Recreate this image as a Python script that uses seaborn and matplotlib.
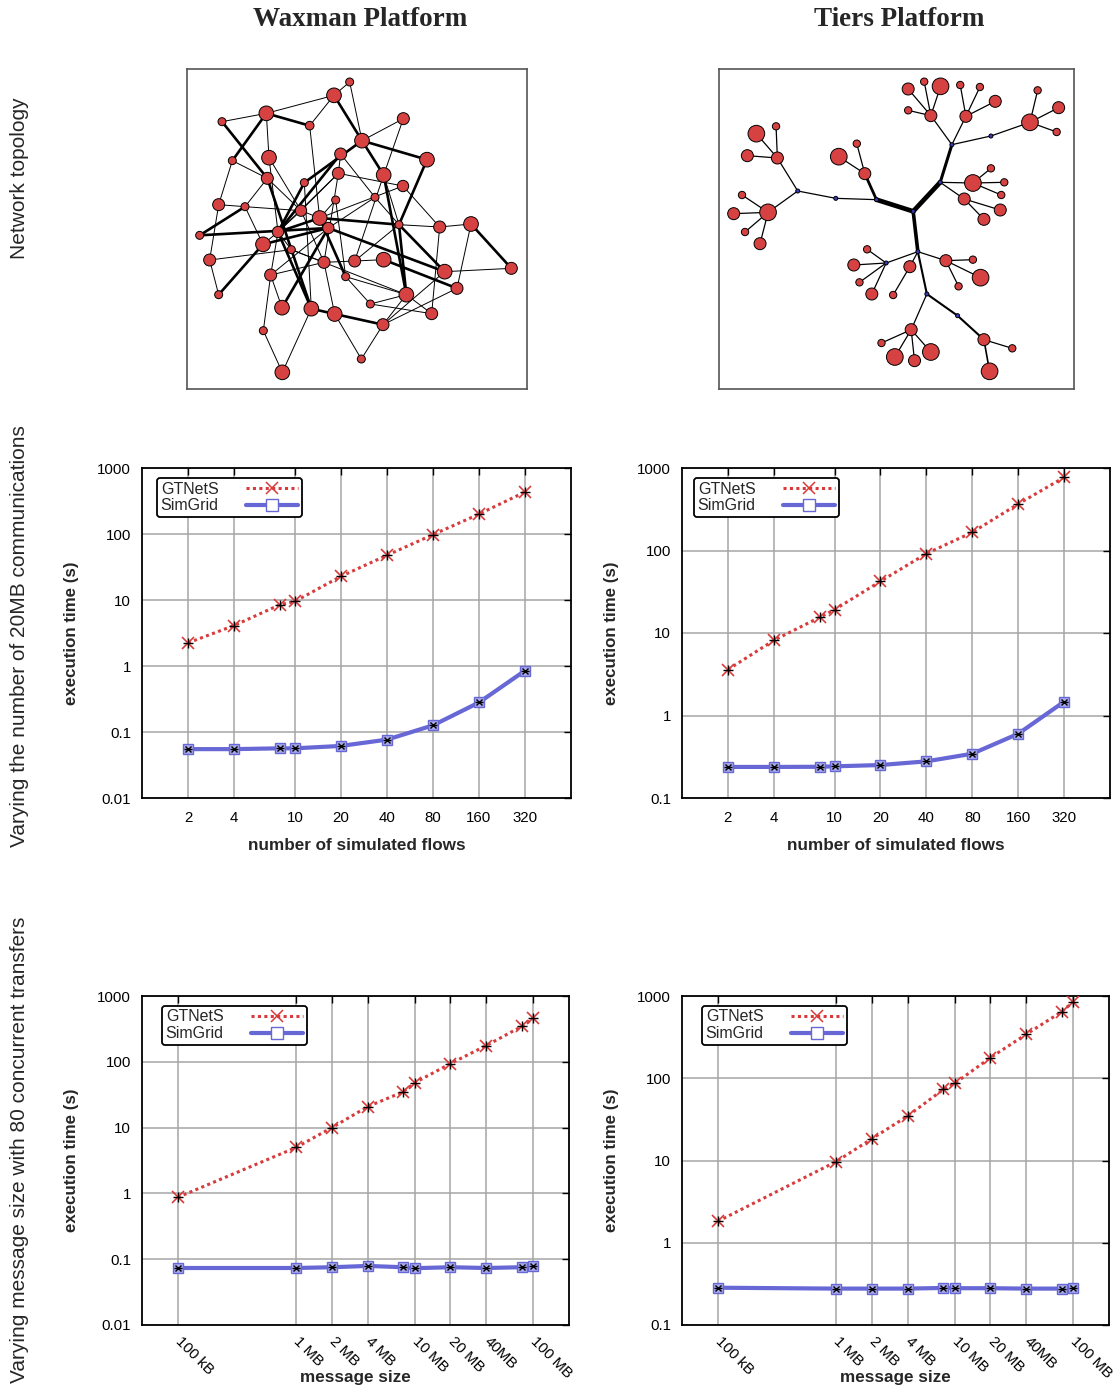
import numpy as np
import pandas as pd
import seaborn as sns
import matplotlib.pyplot as plt
from matplotlib.lines import Line2D

sns.set_theme(style='white')
plt.rcParams['font.family'] = ['Liberation Sans', 'DejaVu Sans']

RED = '#d83b3b'
BLUE = '#6767d6'
NODE_RED = '#d64242'
ROUTER_BLUE = '#3a3ab8'

# =========================
# DATA - performance curves
# =========================
flows = [2, 4, 8, 10, 20, 40, 80, 160, 320]
flow_ticks = [2, 4, 10, 20, 40, 80, 160, 320]

wax_flow_gtnets = [2.24, 4.1, 8.5, 9.5, 22.8, 47.6, 97.7, 200, 433]
wax_flow_simgrid = [0.055, 0.055, 0.0566, 0.0566, 0.0615, 0.0766, 0.126, 0.28, 0.85]
tiers_flow_gtnets = [3.6, 8.15, 15.5, 19.2, 42.3, 91.6, 166, 366, 770]
tiers_flow_simgrid = [0.238, 0.238, 0.239, 0.242, 0.251, 0.278, 0.344, 0.60, 1.47]

sizes_mb = [0.1, 1, 2, 4, 8, 10, 20, 40, 80, 100]
size_ticks = [0.1, 1, 2, 4, 10, 20, 40, 100]
size_labels = ['100 kB', '1 MB', '2 MB', '4 MB', '10 MB', '20 MB', '40MB', '100 MB']

wax_size_gtnets = [0.87, 5.0, 10, 20.8, 35, 48, 94, 176, 346, 458]
wax_size_simgrid = [0.0735, 0.0735, 0.0755, 0.079, 0.0755, 0.073, 0.0755, 0.0735, 0.0755, 0.079]
tiers_size_gtnets = [1.82, 9.7, 18.4, 34.7, 73, 86.7, 178, 342, 645, 853]
tiers_size_simgrid = [0.284, 0.277, 0.277, 0.277, 0.282, 0.28, 0.28, 0.277, 0.277, 0.28]

yt_wax = [0.01, 0.1, 1, 10, 100, 1000]
yt_tiers = [0.1, 1, 10, 100, 1000]
yt_labels = {0.01: '0.01', 0.1: '0.1', 1: '1', 10: '10', 100: '100', 1000: '1000'}

# =========================
# DATA - Waxman topology (layout units, y downwards)
# =========================
wax_x = [510, 463, 260, 127, 390, 671, 547, 742, 268, 158,
         483, 476, 612, 263, 374, 670, 586, 468, 117, 196,
         364, 420, 446, 60, 295, 658, 780, 874, 250, 335,
         90, 433, 525, 612, 795, 995, 273, 498, 832, 680,
         117, 307, 395, 465, 572, 756, 610, 251, 545, 308]
wax_y = [67, 107, 161, 186, 198, 177, 243, 300, 294, 303,
         283, 341, 346, 356, 369, 379, 413, 421, 435, 441,
         453, 475, 505, 527, 517, 495, 502, 493, 554, 570,
         601, 608, 604, 600, 636, 626, 646, 651, 686, 705,
         705, 744, 747, 763, 733, 762, 795, 813, 898, 938]
wax_r = [12, 22, 22, 12, 13, 18, 22, 22, 22, 12,
         18, 18, 22, 18, 12, 17, 12, 12, 18, 12,
         17, 22, 17, 12, 17, 12, 18, 22, 22, 12,
         18, 18, 18, 22, 22, 18, 18, 12, 18, 22,
         12, 22, 22, 22, 12, 18, 18, 12, 12, 22]
# node ids are 1-based
wax_thin = [(1, 7), (2, 3), (3, 4), (3, 9), (5, 22), (6, 7), (6, 13), (9, 21), (10, 19),
            (11, 17), (12, 25), (12, 16), (12, 32), (13, 33), (16, 22), (16, 27), (17, 23),
            (18, 22), (18, 38), (19, 20), (19, 31), (20, 21), (20, 29), (21, 22), (21, 25),
            (22, 23), (23, 37), (25, 29), (25, 37), (25, 30), (26, 27), (26, 33), (27, 28),
            (27, 46), (28, 39), (30, 32), (30, 40), (31, 30), (31, 41), (32, 33), (32, 37),
            (32, 44), (33, 34), (35, 36), (35, 47), (37, 42), (37, 48), (38, 45), (38, 40),
            (39, 47), (40, 45), (40, 47), (40, 46), (43, 50), (44, 49), (45, 46), (47, 49),
            (48, 50), (15, 43), (14, 20), (2, 5), (1, 2), (10, 14), (11, 12), (13, 26),
            (17, 26), (9, 25), (21, 32), (14, 21), (12, 21)]
wax_thick = [(3, 5), (3, 10), (4, 14), (14, 43), (2, 7), (7, 8), (7, 13), (7, 15), (8, 26),
             (11, 25), (26, 40), (20, 24), (22, 25), (22, 26), (23, 24), (22, 38), (23, 29),
             (23, 42), (23, 35), (25, 43), (26, 35), (28, 36), (29, 41), (34, 39), (43, 44),
             (44, 47), (15, 25), (13, 40)]

# =========================
# DATA - Tiers topology (layout units, y downwards)
# =========================
tiers_x = [610, 500, 378, 264, 691, 726, 843, 624, 529, 651, 743,
           203, 140, 199, 113, 175, 97, 72, 106, 151,
           465, 387, 441, 663, 595, 643, 692, 595, 768, 751,
           810, 856, 960, 983, 1046, 1040, 789, 843, 883, 874,
           763, 871, 822, 708, 789, 812, 746, 600, 550, 472,
           432, 449, 486, 604, 515, 555, 614, 663, 822, 907, 839]
tiers_y = [455, 420, 416, 394, 368, 255, 229, 576, 610, 703, 768,
           295, 222, 200, 288, 458, 406, 462, 517, 552,
           342, 291, 252, 168, 88, 66, 80, 152, 170, 76,
           82, 125, 188, 92, 144, 217, 370, 326, 368, 406,
           418, 451, 479, 603, 600, 654, 680, 621, 706, 569,
           616, 668, 703, 810, 850, 892, 903, 877, 840, 866, 935]
tiers_r = [6] * 11 + [18, 25, 11, 18, 25, 11, 18, 11, 18,
                      18, 25, 11, 18, 18, 11, 25, 11, 18, 11,
                      11, 18, 25, 11, 18, 11, 25, 11, 11, 11,
                      18, 18, 18, 18, 11, 25, 11, 18, 11, 11,
                      18, 11, 18, 18, 11, 25, 18, 25, 18, 11, 25]
n_routers = 11
# (a, b, width in points), 0-based
tiers_edges = [(0, 1, 3.4), (0, 4, 3.4), (0, 7, 2.6), (1, 2, 0.9), (2, 3, 0.9),
               (3, 11, 0.9), (11, 12, 0.9), (11, 13, 0.9), (11, 14, 0.9),
               (3, 15, 0.9), (15, 16, 0.9), (15, 17, 0.9), (15, 18, 0.9), (15, 19, 0.9),
               (1, 20, 2.0), (20, 21, 0.9), (20, 22, 0.9), (4, 5, 2.2),
               (5, 23, 0.9), (23, 24, 0.9), (23, 25, 0.9), (23, 26, 0.9), (23, 27, 0.9),
               (5, 28, 0.9), (28, 29, 0.9), (28, 30, 0.9), (28, 31, 0.9), (5, 6, 0.9),
               (6, 32, 0.9), (32, 33, 0.9), (32, 34, 0.9), (32, 35, 0.9),
               (4, 36, 0.9), (36, 37, 0.9), (36, 38, 0.9), (36, 39, 0.9),
               (4, 40, 0.9), (40, 41, 0.9), (40, 42, 0.9),
               (7, 43, 0.9), (43, 44, 0.9), (43, 45, 0.9), (43, 46, 0.9),
               (7, 47, 0.9), (47, 48, 0.9), (7, 8, 0.9),
               (8, 49, 0.9), (8, 50, 0.9), (8, 51, 0.9), (8, 52, 0.9),
               (7, 9, 1.5), (9, 53, 0.9), (53, 54, 0.9), (53, 55, 0.9), (53, 56, 0.9),
               (53, 57, 0.9), (9, 10, 1.5), (10, 58, 1.5), (58, 59, 0.9), (58, 60, 1.2)]


def frame_box(ax):
    ax.set_xticks([])
    ax.set_yticks([])
    for s in ax.spines.values():
        s.set_visible(True)
        s.set_color('#555555')
        s.set_linewidth(1.2)


def draw_waxman(ax):
    for a, b in wax_thin:
        ax.plot([wax_x[a - 1], wax_x[b - 1]], [wax_y[a - 1], wax_y[b - 1]],
                color='black', lw=0.7, zorder=1)
    for a, b in wax_thick:
        ax.plot([wax_x[a - 1], wax_x[b - 1]], [wax_y[a - 1], wax_y[b - 1]],
                color='black', lw=1.9, zorder=1)
    sizes = [(0.48 * r) ** 2 for r in wax_r]
    ax.scatter(wax_x, wax_y, s=sizes, color=NODE_RED, edgecolors='black',
               linewidths=0.7, zorder=2)
    ax.set_xlim(22, 1042)
    ax.set_ylim(988, 28)
    frame_box(ax)


def draw_tiers(ax):
    for a, b, w in tiers_edges:
        ax.plot([tiers_x[a], tiers_x[b]], [tiers_y[a], tiers_y[b]],
                color='black', lw=w, zorder=1, solid_capstyle='round')
    sizes = [(0.48 * r) ** 2 for r in tiers_r]
    colors = [ROUTER_BLUE] * n_routers + [NODE_RED] * (len(tiers_x) - n_routers)
    ax.scatter(tiers_x, tiers_y, s=sizes, c=colors, edgecolors='black',
               linewidths=0.7, zorder=2)
    ax.set_xlim(28, 1092)
    ax.set_ylim(988, 28)
    frame_box(ax)


def perf_panel(ax, x, gt, sg, yticks, xticks, xlabels, xlim, xlabel, rotate, leg_dx):
    sns.lineplot(x=x, y=gt, ax=ax, color=RED, lw=2.2, linestyle=(0, (1, 1.1)),
                 dash_capstyle='butt', marker='x', ms=8, mew=1.2, mec=RED, zorder=3)
    sns.lineplot(x=x, y=sg, ax=ax, color=BLUE, lw=3, marker='s', ms=7.5,
                 mfc='#a8a8ec', mec=BLUE, mew=1, zorder=3)
    ax.plot(x, gt, ls='none', marker='+', color='black', ms=7.5, mew=1, zorder=4)
    ax.plot(x, sg, ls='none', marker='x', color='black', ms=4.5, mew=1, zorder=4)
    ax.plot(x, sg, ls='none', marker='_', color='black', ms=6, mew=1, zorder=4)

    ax.set_xscale('log')
    ax.set_yscale('log')
    ax.set_xlim(*xlim)
    ax.set_ylim(yticks[0], yticks[-1])
    ax.set_yticks(yticks)
    ax.set_yticklabels([yt_labels[t] for t in yticks])
    ax.set_xticks(xticks)
    ax.minorticks_off()
    if rotate:
        ax.set_xticklabels(xlabels, rotation=-45, ha='left', va='center',
                           rotation_mode='anchor')
    else:
        ax.set_xticklabels(xlabels)
    ax.tick_params(axis='both', direction='in', length=5, width=1, labelsize=10.8,
                   top=True, right=True, color='black', labelcolor='black')
    ax.tick_params(axis='x', pad=10 if rotate else 9)
    ax.tick_params(axis='y', pad=8)
    ax.grid(True, which='major', color='#a6a6a6', lw=1.1)
    ax.set_axisbelow(True)
    for s in ax.spines.values():
        s.set_visible(True)
        s.set_color('black')
        s.set_linewidth(1.3)

    ax.set_ylabel('execution time (s)', fontsize=12.2, fontweight='bold')
    ax.yaxis.set_label_coords(-0.147, 0.5)
    ax.set_xlabel(xlabel, fontsize=12.3, fontweight='bold')
    ax.xaxis.set_label_coords(0.5, -0.138 if rotate else -0.12)

    h1 = Line2D([], [], color=RED, lw=2.2, ls=(0, (1, 1.1)), dash_capstyle='butt',
                marker='x', ms=9, mew=1.1)
    h2 = Line2D([], [], color=BLUE, lw=3, marker='s', ms=8, mfc='white', mec=BLUE, mew=1)
    leg = ax.legend([h1, h2], ['GTNetS', 'SimGrid'], loc='upper left',
                    bbox_to_anchor=(leg_dx, 1 - 10 / 330), borderaxespad=0,
                    markerfirst=False, handlelength=3.3, handletextpad=1.7,
                    numpoints=1, fontsize=11.5, frameon=True, fancybox=True,
                    framealpha=1, edgecolor='black', borderpad=0.22, labelspacing=0.12)
    leg.get_frame().set_linewidth(1.3)


fig = plt.figure(figsize=(11.16, 13.9), dpi=100)
W, H = 1116, 1390


def px_axes(x0, y0, x1, y1):
    return fig.add_axes([x0 / W, 1 - y1 / H, (x1 - x0) / W, (y1 - y0) / H])


ax_wt = px_axes(187, 69, 527, 389)
ax_tt = px_axes(719, 69, 1074, 389)
ax_wf = px_axes(142, 468, 571, 798)
ax_tf = px_axes(682, 468, 1110, 798)
ax_ws = px_axes(142, 996, 569, 1325)
ax_ts = px_axes(682, 996, 1109, 1325)

draw_waxman(ax_wt)
draw_tiers(ax_tt)

perf_panel(ax_wf, flows, wax_flow_gtnets, wax_flow_simgrid, yt_wax, flow_ticks,
           [str(t) for t in flow_ticks], (1, 640), 'number of simulated flows', False, 15 / 429)
perf_panel(ax_tf, flows, tiers_flow_gtnets, tiers_flow_simgrid, yt_tiers, flow_ticks,
           [str(t) for t in flow_ticks], (1, 640), 'number of simulated flows', False, 12 / 428)
perf_panel(ax_ws, sizes_mb, wax_size_gtnets, wax_size_simgrid, yt_wax, size_ticks,
           size_labels, (0.05, 200), 'message size', True, 20 / 427)
perf_panel(ax_ts, sizes_mb, tiers_size_gtnets, tiers_size_simgrid, yt_tiers, size_ticks,
           size_labels, (0.05, 200), 'message size', True, 20 / 427)

# column titles
fig.text(360 / W, 1 - 20 / H, 'Waxman Platform', ha='center', va='center',
         fontsize=19.5, fontweight='bold', family=['Liberation Serif', 'DejaVu Serif'])
fig.text(899 / W, 1 - 20 / H, 'Tiers Platform', ha='center', va='center',
         fontsize=19.5, fontweight='bold', family=['Liberation Serif', 'DejaVu Serif'])

# row labels
fig.text(20 / W, 1 - 178 / H, 'Network topology', rotation=90, ha='center', va='center',
         fontsize=15)
fig.text(20 / W, 1 - 636 / H, 'Varying the number of 20MB communications', rotation=90,
         ha='center', va='center', fontsize=15)
fig.text(20 / W, 1 - 1150 / H, 'Varying message size with 80 concurrent transfers',
         rotation=90, ha='center', va='center', fontsize=15)

plt.savefig('out.png', dpi=100)
